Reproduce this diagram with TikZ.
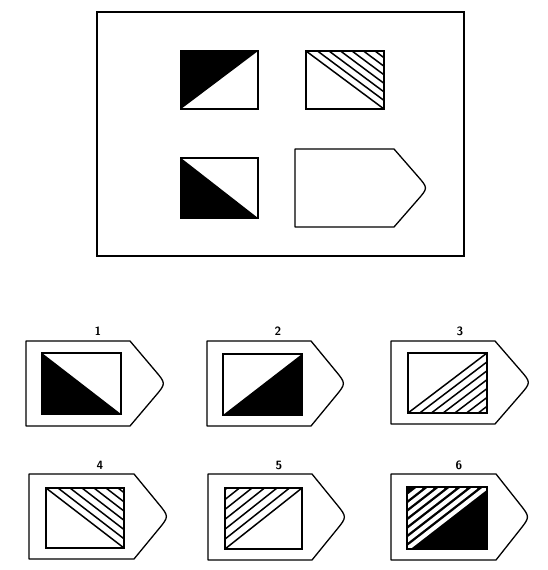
\documentclass[tikz,border=0pt]{standalone}
\usetikzlibrary{calc}
\tikzset{
  frameline/.style={line width=1.1pt},
  tagline/.style={line width=1.3pt, line join=round},
  boxline/.style={line width=1.8pt},
  hatchline/.style={line width=1.5pt},
  whiteline/.style={line width=4.2pt, white},
  numlabel/.style={font=\sffamily\bfseries\fontsize{12}{14}\selectfont, inner sep=0pt}
}
% tag outline: x0 y0 xc xt y1
\newcommand\TagShape[5]{%
  \draw[tagline] (#1,#2) -- (#3,#2) -- ($(#3,#2)!0.7!(#4,{(#2+#5)/2})$)
    .. controls (#4,{(#2+#5)/2}) .. ($(#3,#5)!0.7!(#4,{(#2+#5)/2})$)
    -- (#3,#5) -- (#1,#5) -- cycle;}
% hatch upper-right triangle, lines parallel to TL-BR diagonal
\newcommand\HatchUR[5]{%
  \begin{scope}
    \clip (#1,#2) -- (#3,#2) -- (#3,#4) -- cycle;
    \foreach \k in {1,...,7} {\draw[hatchline] ({#1+\k*#5},#2) -- ({#3+\k*#5},#4);}
  \end{scope}
  \draw[hatchline] (#1,#2) -- (#3,#4);}
% hatch lower-right triangle, lines parallel to BL-TR diagonal
\newcommand\HatchLR[5]{%
  \begin{scope}
    \clip (#1,#4) -- (#3,#4) -- (#3,#2) -- cycle;
    \foreach \k in {1,...,7} {\draw[hatchline] ({#1+\k*#5},#4) -- ({#3+\k*#5},#2);}
  \end{scope}
  \draw[hatchline] (#1,#4) -- (#3,#2);}
% hatch upper-left triangle, lines parallel to BL-TR diagonal
\newcommand\HatchUL[5]{%
  \begin{scope}
    \clip (#1,#2) -- (#3,#2) -- (#1,#4) -- cycle;
    \foreach \k in {1,...,7} {\draw[hatchline] ({#1-\k*#5},#4) -- ({#3-\k*#5},#2);}
  \end{scope}
  \draw[hatchline] (#1,#4) -- (#3,#2);}
\begin{document}
\begin{tikzpicture}[x=1pt,y=-1pt]
\useasboundingbox (0,0) rectangle (548,570);
\fill[white] (0,0) rectangle (548,570);
% question frame
\draw[frameline] (97,12) rectangle (464,256);
% top-left: black upper-left
\fill (181,51) -- (258,51) -- (181,109) -- cycle;
\draw[boxline] (181,51) rectangle (258,109);
% top-right: hatched upper-right
\HatchUR{306}{51}{384}{109}{11.5}
\draw[boxline] (306,51) rectangle (384,109);
% bottom-left: black lower-left
\fill (181,158) -- (258,218) -- (181,218) -- cycle;
\draw[boxline] (181,158) rectangle (258,218);
% empty tag
\TagShape{295}{149}{394}{428}{227}

% option 1
\node[numlabel] (l1) at (98,331) {1};
\TagShape{26}{341}{130}{166}{426}
\fill (42,353) -- (121,414) -- (42,414) -- cycle;
\draw[boxline] (42,353) rectangle (121,414);
% option 2
\node[numlabel] (l2) at (278,331) {2};
\TagShape{207}{341}{311}{346}{426}
\fill (223,415) -- (302,354) -- (302,415) -- cycle;
\draw[boxline] (223,354) rectangle (302,415);
% option 3
\node[numlabel] (l3) at (460,331) {3};
\TagShape{391}{341}{495}{531}{424}
\HatchLR{408}{353}{487}{413}{11.7}
\draw[boxline] (408,353) rectangle (487,413);
% option 4
\node[numlabel] (l4) at (100,465) {4};
\TagShape{29}{474}{134}{169}{559}
\HatchUR{46}{488}{124}{548}{12}
\draw[boxline] (46,488) rectangle (124,548);
% option 5
\node[numlabel] (l5) at (279,465) {5};
\TagShape{208}{474}{312}{347}{560}
\HatchUL{225}{488}{302}{549}{12.5}
\draw[boxline] (225,488) rectangle (302,549);
% option 6
\node[numlabel] (l6) at (459,465) {6};
\TagShape{391}{474}{496}{530}{560}
\fill (407,487) rectangle (487,549);
\begin{scope}
  \clip (407,487) rectangle (487,549);
  \foreach \k in {0,...,6} {\draw[whiteline] ({407-\k*11},549) -- ({487-\k*11},487);}
\end{scope}
\draw[boxline] (407,487) rectangle (487,549);
\end{tikzpicture}
\end{document}
